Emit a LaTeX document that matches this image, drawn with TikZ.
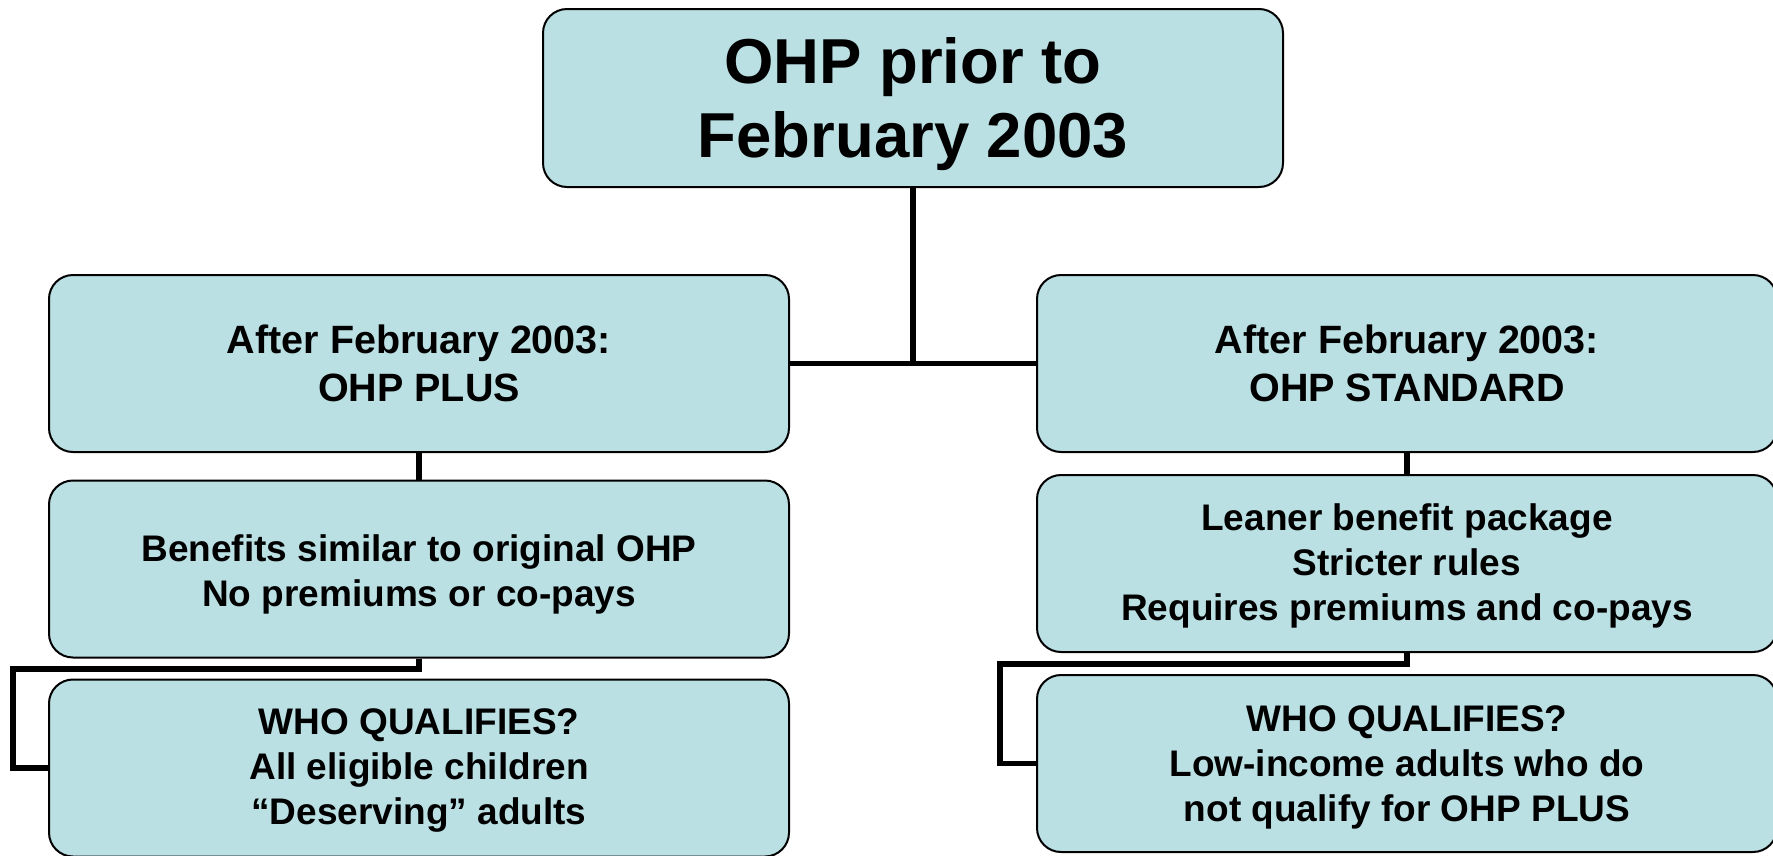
\documentclass[tikz,border=0pt]{standalone}
\usepackage{fontspec}
\setmainfont{Liberation Sans}
\usetikzlibrary{backgrounds}
\definecolor{boxfill}{RGB}{186,224,228}
\newcommand{\topstrut}[1]{\rule{0pt}{#1}}
\begin{document}
\begin{tikzpicture}[x=1pt,y=-1pt,
  box/.style={draw=black, line width=2pt, fill=boxfill, rounded corners=24pt,
    align=center, inner sep=0pt, font=\bfseries},
  topbox/.style={box, minimum width=740pt, minimum height=178pt,
    font=\bfseries\fontsize{63.5}{74}\selectfont},
  midbox/.style={box, minimum width=740pt, minimum height=177pt,
    font=\bfseries\fontsize{39.5}{48}\selectfont},
  lowbox/.style={box, minimum width=740pt, minimum height=177pt,
    font=\bfseries\fontsize{37}{45}\selectfont},
  conn/.style={draw=black, line width=5.5pt, line join=miter}]
\useasboundingbox (0,0) rectangle (1773,855);

\node[topbox] (top) at (913,98) {\topstrut{58pt}OHP prior to\\February 2003};

\node[midbox] (L1) at (419,363.5) {After February 2003:\\OHP PLUS};
\node[lowbox] (L2) at (419,569) {\topstrut{38pt}Benefits similar to original OHP\\No premiums or co-pays};
\node[lowbox] (L3) at (419,768) {\topstrut{31pt}WHO QUALIFIES?\\All eligible children\\“Deserving” adults};

\node[midbox] (R1) at (1407,363.5) {After February 2003:\\OHP STANDARD};
\node[lowbox] (R2) at (1407,563.5) {\topstrut{31pt}Leaner benefit package\\Stricter rules\\Requires premiums and co-pays};
\node[lowbox] (R3) at (1407,763.5) {\topstrut{34pt}WHO QUALIFIES?\\Low-income adults who do\\not qualify for OHP PLUS};

\coordinate (eL) at (13,669);
\coordinate (eR) at (1000,664);

\begin{scope}[on background layer]
\draw[conn] (L1.east) -- (R1.west);
\draw[conn] (top.south) -- (top.south |- L1.east);
\draw[conn] (L1.south) -- (L2.north);
\draw[conn] (R1.south) -- (R2.north);
\draw[conn] (L2.south) |- (eL) |- (L3.west);
\draw[conn] (R2.south) |- (eR) |- (R3.west);
\end{scope}
\end{tikzpicture}
\end{document}
